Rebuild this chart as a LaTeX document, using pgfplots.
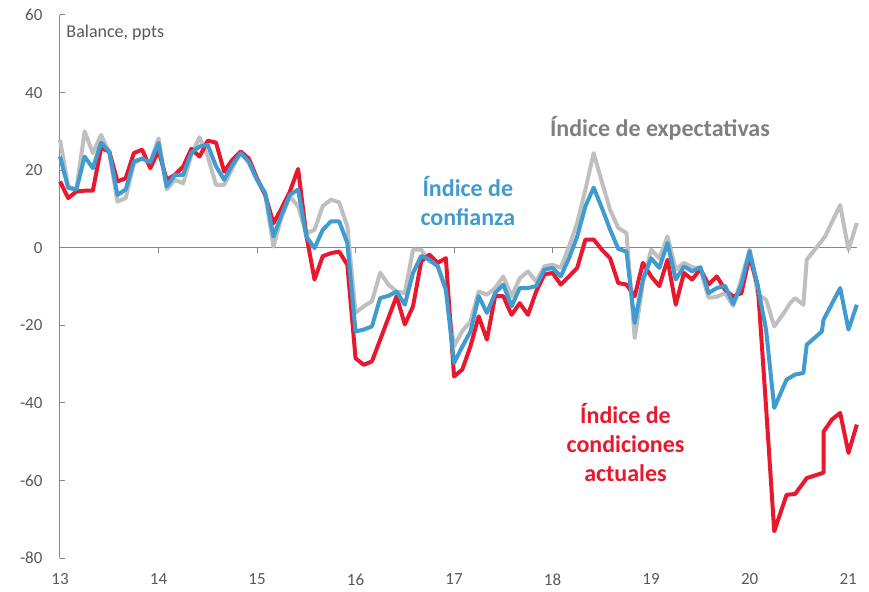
\documentclass[border=0pt]{standalone}
\usepackage{pgfplots}
\usepackage{pgfplotstable}
\pgfplotsset{compat=1.18}
\usepackage{fontspec}
\setmainfont{Carlito}
\definecolor{cred}{RGB}{232,24,46}
\definecolor{cblue}{RGB}{64,155,208}
\definecolor{cgrey}{RGB}{191,191,191}
\definecolor{cgreytxt}{RGB}{128,128,128}
\definecolor{axgrey}{RGB}{134,134,134}
\definecolor{lblgrey}{RGB}{89,89,89}

% m = months since Jan 2013
\pgfplotstableread{
m v
0 23.5
1 15.4
2 15
3 23.5
4 20.5
5 27.1
6 24.8
7 13.6
8 15
9 22.2
10 23
11 22
12 27
13 15.8
14 18.8
15 18.8
16 24.5
17 26.1
18 26.5
19 21
20 17.5
21 21.4
22 24.4
23 22.2
24 17.5
25 14.1
26 2.9
27 8.5
28 13.6
29 15
30 2.9
31 -0.1
32 4.6
33 6.8
34 6.8
35 1.2
36 -21.6
37 -21.1
38 -20.3
39 -13
40 -12.4
41 -11.3
42 -14.7
43 -6.5
44 -2.1
45 -3.1
46 -4.8
47 -10.8
48 -29.7
49 -25.5
50 -21.6
51 -12.5
52 -16.8
53 -11.7
54 -9.5
55 -15.1
56 -10.4
57 -10.4
58 -9.9
59 -5.7
60 -5.2
61 -7.4
62 -2.7
63 2.9
64 10.7
65 15.5
66 10.3
67 4.7
68 -0.3
69 -1
70 -19.4
71 -8.2
72 -2.7
73 -5.2
74 1.2
75 -8.2
76 -4.8
77 -6.1
78 -5
79 -11.7
80 -10.4
81 -9.8
82 -14.5
83 -9.5
84 -0.9
85 -9.9
86 -21.1
87 -41.3
88.5 -34
89.54 -32.7
90.55 -32.3
90.96 -25
92.8 -21.6
93.0 -18.6
95.03 -10.4
96.04 -21.1
97.06 -14.7
}\confianza

\pgfplotstableread{
m v
0 17.1
1 12.8
2 14.5
3 14.7
4 14.7
5 25.7
6 24.8
7 17.1
8 17.9
9 24.4
10 25.3
11 20.5
12 25
13 17.5
14 18.8
15 20.9
16 25.5
17 23.5
18 27.6
19 27.1
20 19.6
21 22.7
22 24.8
23 23
24 17.9
25 13.6
26 6.3
27 10.2
28 14.5
29 20.3
30 3.3
31 -8.2
32 -2.2
33 -1.4
34 -1
35 -4.4
36 -28.5
37 -30.2
38 -29.3
39 -23.7
40 -18.1
41 -12.5
42 -19.8
43 -15.1
44 -3.5
45 -1.8
46 -3.9
47 -2.7
48 -33.2
49 -31.4
50 -25.4
51 -17.7
52 -23.7
53 -12.5
54 -12.5
55 -17.3
56 -14.3
57 -17.3
58 -11.3
59 -6.9
60 -6.5
61 -9.5
62 -7.4
63 -5.2
64 2.1
65 2.1
66 -0.5
67 -2.7
68 -9.1
69 -9.5
70 -12.5
71 -3.9
72 -7.4
73 -9.9
74 -3.1
75 -14.7
76 -6.5
77 -8.2
78 -5.5
79 -9.5
80 -7.4
81 -10.8
82 -12.6
83 -11.7
84 -2.2
85 -9.9
86 -41
87 -73.1
88.5 -63.7
89.54 -63.5
90.96 -59.4
93.0 -58
93.02 -47.4
94.02 -44.3
95.03 -42.6
96.04 -52.9
97.06 -45.6
}\condiciones

\pgfplotstableread{
m v
0 27.8
1 15.8
2 15
3 30
4 24.4
5 29.1
6 24.4
7 11.9
8 12.8
9 21.8
10 23
11 22
12 28.2
13 15
14 17.5
15 16.6
16 24
17 28.5
18 23.5
19 16.2
20 16.2
21 20.5
22 24.8
23 21.8
24 17.5
25 13.6
26 0.3
27 8
28 13.2
29 10.7
30 3.7
31 4.6
32 10.7
33 12.4
34 11.7
35 5.5
36 -16.8
37 -15.1
38 -13.8
39 -6.4
40 -9.5
41 -11.3
42 -11.7
43 -0.5
44 -0.5
45 -3.5
46 -4.4
47 -10.8
48 -25.4
49 -21.5
50 -19
51 -11.3
52 -12.1
53 -10.4
54 -7.4
55 -12.5
56 -7.9
57 -6.1
58 -8.7
59 -4.8
60 -4.4
61 -5.2
62 0.3
63 6.4
64 15
65 24.4
66 17
67 9.8
68 5.1
69 3.8
70 -23.3
71 -9.1
72 -0.5
73 -2.7
74 2.9
75 -5.7
76 -3.9
77 -5
78 -5.5
79 -12.9
80 -12.7
81 -11.7
82 -15
83 -8
84 -0.5
85 -12.1
86 -13.4
87 -20.3
88.12 -17
88.93 -14.3
89.54 -13
90.55 -14.7
90.96 -3.1
92.58 1.2
93.19 2.9
95.03 11
96.04 -0.5
97.06 6.4
}\expectativas

\begin{document}
\begin{tikzpicture}
\begin{axis}[
  name=ax,
  scale only axis,
  width=797pt, height=543pt,
  xmin=13, xmax=21.09, ymin=-80, ymax=60,
  axis x line*=bottom, axis y line*=left,
  axis line style={-},
  x axis line style={draw=none},
  y axis line style={draw=axgrey, line width=1pt},
  xtick={13,...,21},
  xticklabels={13,14,15,16,17,18,19,20,21},
  ytick={-80,-60,...,60},
  yticklabels={-80,-60,-40,-20,0,20,40,60},
  xtick style={draw=none},
  ytick style={draw=axgrey, line width=1pt},
  tick align=inside, major tick length=5pt,
  ticklabel style={font=\fontsize{17}{20}\selectfont, text=lblgrey},
  xticklabel style={yshift=-12pt},
  yticklabel style={xshift=-14pt},
  clip=false,
]
\draw[axgrey, line width=1pt] (axis cs:13,0) -- (axis cs:21.09,0);
\pgfplotsinvokeforeach{14,...,21}{\draw[axgrey, line width=1pt] (axis cs:#1,0) -- ++(0pt,-5pt);}

\addplot[cgrey, line width=4pt, line join=round, no marks] table[x expr=13+\thisrow{m}/12, y=v] {\expectativas};
\addplot[cred, line width=4pt, line join=round, no marks] table[x expr=13+\thisrow{m}/12, y=v] {\condiciones};
\addplot[cblue, line width=4pt, line join=round, no marks] table[x expr=13+\thisrow{m}/12, y=v] {\confianza};

\node[anchor=west, text=lblgrey, font=\fontsize{18}{21}\selectfont] at (axis cs:13.03,55.5) {Balance, ppts};
\node[text=cgreytxt, font=\fontsize{24}{29}\bfseries\selectfont] at (axis cs:19.09,30.9) {Índice de expectativas};
\node[text=cblue, font=\fontsize{24}{29}\bfseries\selectfont, align=center] at (axis cs:17.14,12.1) {Índice de\\confianza};
\node[text=cred, font=\fontsize{24}{29}\bfseries\selectfont, align=center] at (axis cs:18.74,-50.3) {Índice de\\condiciones\\actuales};
\end{axis}
\pgfresetboundingbox
\path[use as bounding box] ([xshift=-60pt,yshift=-33pt]ax.south west) rectangle ([xshift=12pt,yshift=15pt]ax.north east);
\end{tikzpicture}
\end{document}
